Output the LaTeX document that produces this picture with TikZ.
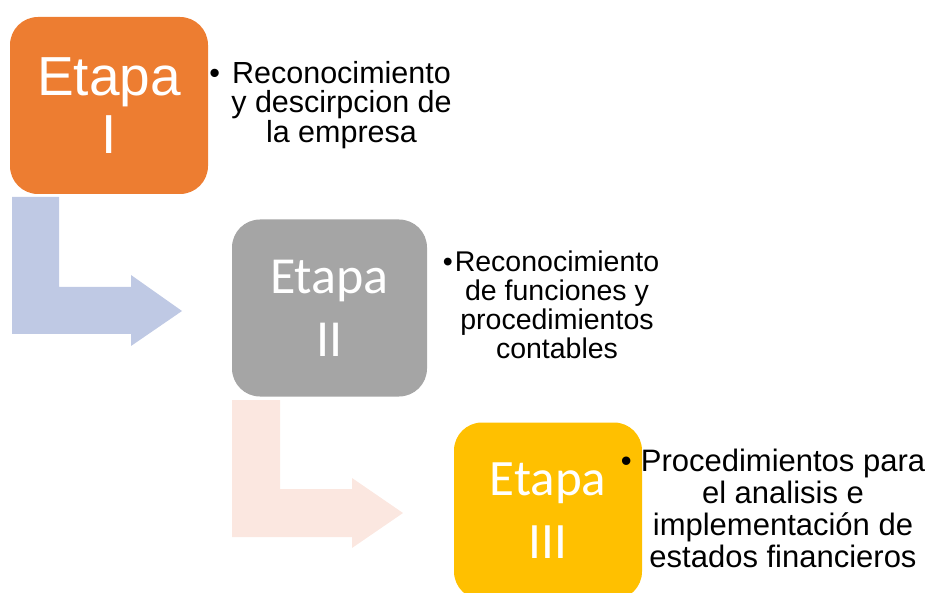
\documentclass[tikz,border=0pt]{standalone}
\usepackage{fontspec}
\setmainfont{Liberation Sans}
\newfontfamily\carlito{Carlito}
\definecolor{stageorange}{HTML}{ED7D31}
\definecolor{stagegray}{HTML}{A5A5A5}
\definecolor{stageyellow}{HTML}{FFC000}
\definecolor{arrowblue}{HTML}{BFC9E4}
\definecolor{arrowpink}{HTML}{FBE7E0}
\begin{document}
\begin{tikzpicture}[x=1pt,y=-1pt,
  stagebox/.style={rounded corners=28pt, inner sep=0pt, text=white, align=center, minimum height=177pt},
  bullettext/.style={align=center, inner sep=0pt, text=black},
  bentarrow/.style={draw=none}]
\useasboundingbox (0,0) rectangle (934,593);
% bent arrows
\fill[arrowblue] (12,197) -- (59,197) -- (59,287) -- (131,287) -- (131,275) -- (182,311)
  -- (131,346) -- (131,334) -- (12,334) -- cycle;
\fill[arrowpink] (232,400) -- (280,400) -- (280,489) -- (352,489) -- (352,478) -- (403,513)
  -- (352,548) -- (352,537) -- (232,537) -- cycle;
% stage boxes
\node[stagebox, fill=stageorange, minimum width=198pt, font=\fontsize{55}{58}\selectfont]
  (b1) at (109,105.5) {Etapa\\I};
\node[stagebox, fill=stagegray, minimum width=195pt, font=\carlito\fontsize{52}{63}\selectfont]
  (b2) at (329.5,308) {Etapa\\II};
\node[stagebox, fill=stageyellow, minimum width=188pt, font=\carlito\fontsize{51}{63}\selectfont]
  (b3) at (548,511) {Etapa\\III};
% bullet texts
\node[bullettext, font=\fontsize{30.5}{29.5}\selectfont] (t1) at (341.5,105)
  {\llap{•\hspace{12pt}}Reconocimiento\\y descirpcion de\\la empresa};
\node[bullettext, font=\fontsize{28.5}{29}\selectfont] (t2) at (557,305.3)
  {\llap{•\hspace{2pt}}Reconocimiento\\de funciones y\\procedimientos\\contables};
\node[bullettext, font=\fontsize{31}{32.3}\selectfont] (t3) at (783,508.4)
  {\llap{•\hspace{9pt}}Procedimientos para\\el analisis e\\implementación de\\estados financieros};
\end{tikzpicture}
\end{document}
